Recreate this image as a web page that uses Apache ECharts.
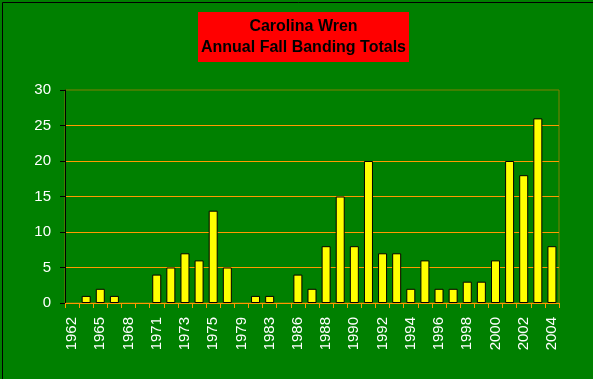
<!DOCTYPE html>
<html>
<head>
<meta charset="utf-8">
<script src="https://cdn.jsdelivr.net/npm/echarts@6/dist/echarts.min.js"></script>
<style>
html,body{margin:0;padding:0;background:#008000;}
#chart{width:593px;height:379px;}
</style>
</head>
<body>
<div id="chart"></div>
<script>
// Years (categories) - labels shown every other category
const years = ['1962','1964','1965','1966','1968','1970','1971','1972','1973','1974','1975','1977','1979','1981','1983','1984','1986','1987','1988','1989','1990','1991','1992','1993','1994','1995','1996','1997','1998','1999','2000','2001','2002','2003','2004'];
// Annual fall banding totals
const totals = [0,1,2,1,0,0,4,5,7,6,13,5,0,1,1,0,4,2,8,15,8,20,7,7,2,6,2,2,3,3,6,20,18,26,8];
const titleLines = ['Carolina Wren', 'Annual Fall Banding Totals'];

const chart = echarts.init(document.getElementById('chart'), null, {renderer:'canvas'});
const font = 'Arial, "Liberation Sans", sans-serif';
chart.setOption({
  backgroundColor: '#008000',
  animation: false,
  grid: {left: 65, right: 34, top: 90, bottom: 76, show: true, borderColor: '#808000', borderWidth: 1, backgroundColor: 'transparent'},
  xAxis: {
    type: 'category',
    data: years,
    boundaryGap: true,
    axisLine: {lineStyle: {color: '#FF9900', width: 1}},
    axisTick: {show: true, interval: 0, length: 5, lineStyle: {color: '#FF9900'}},
    axisLabel: {interval: 1, rotate: 90, color: '#FFFFFF', fontFamily: font, fontSize: 15, margin: 14}
  },
  yAxis: {
    type: 'value',
    min: 0, max: 30, interval: 5,
    axisLine: {show: true, lineStyle: {color: '#000000', width: 1}},
    axisTick: {show: true, length: 5, lineStyle: {color: '#000000'}},
    axisLabel: {color: '#FFFFFF', fontFamily: font, fontSize: 15, margin: 14},
    splitLine: {show: true, showMaxLine: false, lineStyle: {color: '#FF9900', width: 1}}
  },
  series: [{
    type: 'bar',
    data: totals.map(v => v === 0 ? {value: v, itemStyle: {borderWidth: 0, opacity: 0}} : v),
    barWidth: 9,
    itemStyle: {color: '#FFFF00', borderColor: '#000000', borderWidth: 1}
  }],
  graphic: [
    {type: 'rect', left: 0, top: 0, shape: {x: 0.5, y: 0.5, width: 592, height: 378}, style: {fill: 'none', stroke: '#000000', lineWidth: 1}, silent: true},
    {type: 'rect', shape: {x: 198, y: 12, width: 211, height: 50}, style: {fill: '#FF0000'}, z: 10},
    {type: 'text', x: 303.5, y: 27, style: {text: titleLines[0], fill: '#000000', font: 'bold 16px ' + font, textAlign: 'center', textVerticalAlign: 'middle'}, z: 11},
    {type: 'text', x: 303.5, y: 48, style: {text: titleLines[1], fill: '#000000', font: 'bold 16px ' + font, textAlign: 'center', textVerticalAlign: 'middle'}, z: 11}
  ]
});
</script>
</body>
</html>
